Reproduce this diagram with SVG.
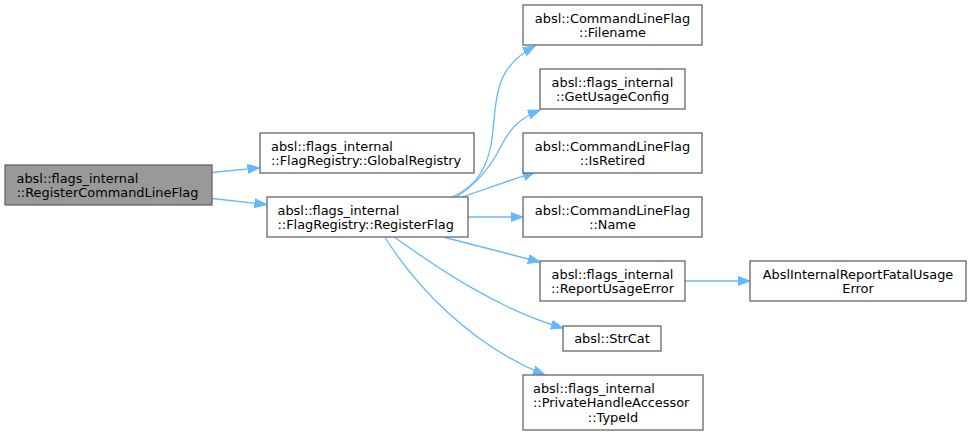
<svg xmlns="http://www.w3.org/2000/svg" width="971" height="435" viewBox="0 0 971 435">
<style>
.n rect{fill:#ffffff;stroke:#666666;stroke-width:1.3}
.n.hl rect{fill:#999999}
.n text{font-family:"DejaVu Sans",sans-serif;font-size:12.9px;fill:#000000}
.c{text-anchor:middle}
.e path{fill:none;stroke:#63b8ff;stroke-width:1.3;marker-end:url(#ah)}
</style>
<defs>
<marker id="ah" markerUnits="userSpaceOnUse" markerWidth="14" markerHeight="12" refX="12" refY="5" orient="auto" viewBox="0 0 14 12">
<path d="M0,0.5 L12,5 L0,9.5 z" fill="#63b8ff" stroke="#63b8ff" stroke-width="1"/>
</marker>
</defs>
<rect width="971" height="435" fill="#ffffff"/>
<g id="edges" class="e">
<path d="M212,172.5 L259.5,167.8"/>
<path d="M212,198.5 L266.5,204.5"/>
<path d="M452,197 C478,186 490,165 493,130 C497,85 500,65 535,46"/>
<path d="M456,197 C475,185 490,168 500,148 C510,128 520,118 540,110"/>
<path d="M462,197 L535,172"/>
<path d="M468,217 L523,217"/>
<path d="M445,237.5 L540,262"/>
<path d="M395,237.5 C440,270 500,310 563,328"/>
<path d="M385,237.5 C415,285 470,345 545,375"/>
<path d="M685,281 L750,281"/>
</g>
<g id="node-RegisterCommandLineFlag" class="n hl">
<rect x="5" y="165" width="207" height="40"/>
<text x="16.5" y="182.5">absl::flags_internal</text>
<text x="16.5" y="197">::RegisterCommandLineFlag</text>
</g>
<g id="node-GlobalRegistry" class="n">
<rect x="260" y="133" width="214" height="40"/>
<text x="271" y="150.5">absl::flags_internal</text>
<text x="271" y="165">::FlagRegistry::GlobalRegistry</text>
</g>
<g id="node-RegisterFlag" class="n">
<rect x="267" y="197" width="201" height="40"/>
<text x="277.5" y="214.5">absl::flags_internal</text>
<text x="277.5" y="229">::FlagRegistry::RegisterFlag</text>
</g>
<g id="node-Filename" class="n">
<rect x="523" y="5" width="179" height="40"/>
<text class="c" x="612.5" y="22.5">absl::CommandLineFlag</text>
<text class="c" x="612.5" y="37">::Filename</text>
</g>
<g id="node-GetUsageConfig" class="n">
<rect x="540" y="69" width="145" height="40"/>
<text class="c" x="612.5" y="86.5">absl::flags_internal</text>
<text class="c" x="612.5" y="101">::GetUsageConfig</text>
</g>
<g id="node-IsRetired" class="n">
<rect x="523" y="133" width="179" height="40"/>
<text class="c" x="612.5" y="150.5">absl::CommandLineFlag</text>
<text class="c" x="612.5" y="165">::IsRetired</text>
</g>
<g id="node-Name" class="n">
<rect x="523" y="197" width="179" height="40"/>
<text class="c" x="612.5" y="214.5">absl::CommandLineFlag</text>
<text class="c" x="612.5" y="229">::Name</text>
</g>
<g id="node-ReportUsageError" class="n">
<rect x="540" y="261" width="145" height="40"/>
<text class="c" x="612.5" y="278.5">absl::flags_internal</text>
<text class="c" x="612.5" y="293">::ReportUsageError</text>
</g>
<g id="node-StrCat" class="n">
<rect x="563" y="326" width="98" height="25"/>
<text class="c" x="612" y="343">absl::StrCat</text>
</g>
<g id="node-TypeId" class="n">
<rect x="523" y="375" width="180" height="55"/>
<text x="533" y="392.5">absl::flags_internal</text>
<text x="533" y="407">::PrivateHandleAccessor</text>
<text class="c" x="613" y="421.5">::TypeId</text>
</g>
<g id="node-AbslInternalReportFatalUsageError" class="n">
<rect x="750" y="261" width="216" height="40"/>
<text class="c" x="858" y="278.5">AbslInternalReportFatalUsage</text>
<text class="c" x="858" y="293">Error</text>
</g>
</svg>
